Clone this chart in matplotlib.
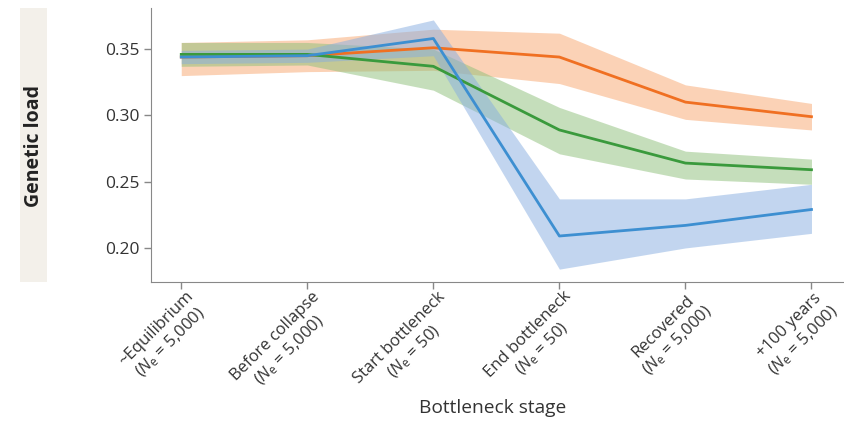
import matplotlib.pyplot as plt
import matplotlib.transforms as mtransforms
from matplotlib.patches import Rectangle

plt.rcParams['font.family'] = ['Open Sans', 'DejaVu Sans']
plt.rcParams['mathtext.fontset'] = 'custom'
plt.rcParams['mathtext.it'] = 'Open Sans:italic'
plt.rcParams['mathtext.rm'] = 'Open Sans'

stages = [
    '~Equilibrium\n($N_\\mathrm{e}$ = 5,000)',
    'Before collapse\n($N_\\mathrm{e}$ = 5,000)',
    'Start bottleneck\n($N_\\mathrm{e}$ = 50)',
    'End bottleneck\n($N_\\mathrm{e}$ = 50)',
    'Recovered\n($N_\\mathrm{e}$ = 5,000)',
    '+100 years\n($N_\\mathrm{e}$ = 5,000)',
]

# mean and interval per series
orange_mean = [0.344, 0.345, 0.351, 0.344, 0.310, 0.299]
orange_low = [0.330, 0.333, 0.334, 0.324, 0.297, 0.289]
orange_high = [0.355, 0.357, 0.365, 0.362, 0.323, 0.309]

green_mean = [0.346, 0.346, 0.337, 0.289, 0.264, 0.259]
green_low = [0.337, 0.338, 0.319, 0.271, 0.252, 0.248]
green_high = [0.355, 0.355, 0.350, 0.306, 0.273, 0.267]

blue_mean = [0.344, 0.345, 0.358, 0.209, 0.217, 0.229]
blue_low = [0.339, 0.340, 0.345, 0.184, 0.200, 0.211]
blue_high = [0.349, 0.350, 0.372, 0.237, 0.237, 0.248]


def plotData():
    fig = plt.figure(figsize=(8.44, 4.21), dpi=100)
    ax = fig.add_axes([151 / 844, 1 - 282 / 421, 692 / 844, 274 / 421])
    x = list(range(len(stages)))

    series = [
        (orange_mean, orange_low, orange_high, '#f07022', '#f8a66e'),
        (green_mean, green_low, green_high, '#3a9a3c', '#8cbf78'),
        (blue_mean, blue_low, blue_high, '#3d8fd1', '#86ade0'),
    ]
    for mean, low, high, line_c, fill_c in series:
        ax.fill_between(x, low, high, color=fill_c, alpha=0.5, linewidth=0)
    for mean, low, high, line_c, fill_c in series:
        ax.plot(x, mean, color=line_c, linewidth=2)

    ax.set_xlim(-0.24, 5.25)
    ax.set_ylim(0.1743, 0.381)
    ax.set_yticks([0.20, 0.25, 0.30, 0.35])
    ax.set_yticklabels(['0.20', '0.25', '0.30', '0.35'])
    ax.set_xticks(x)
    ax.set_xticklabels(stages, rotation=45, ha='right', va='top',
                       rotation_mode='anchor', multialignment='center')
    ax.tick_params(labelsize=12.5, colors='#333333', color='#888888',
                   length=5, width=1)
    ax.tick_params(axis='x', labelsize=12, pad=4)
    shift = mtransforms.ScaledTranslation(4 / 100, 6 / 100, fig.dpi_scale_trans)
    for lbl in ax.get_xticklabels():
        lbl.set_transform(lbl.get_transform() + shift)
    for side in ['top', 'right']:
        ax.spines[side].set_visible(False)
    for side in ['left', 'bottom']:
        ax.spines[side].set_color('#888888')

    fig.add_artist(Rectangle((20 / 844, 1 - 282 / 421), 27 / 844, 274 / 421,
                             transform=fig.transFigure, color='#f3f0ea',
                             linewidth=0, zorder=0))
    fig.text(34 / 844, 1 - 146 / 421, 'Genetic load', rotation=90,
             ha='center', va='center', fontsize=14, fontweight='bold',
             color='#222222')
    fig.text(493 / 844, 1 - 408 / 421, 'Bottleneck stage', ha='center',
             va='center', fontsize=13.8, color='#333333')

    fig.savefig('out.png', dpi=100)


def main():
    plotData()


if __name__ == "__main__":
    main()
